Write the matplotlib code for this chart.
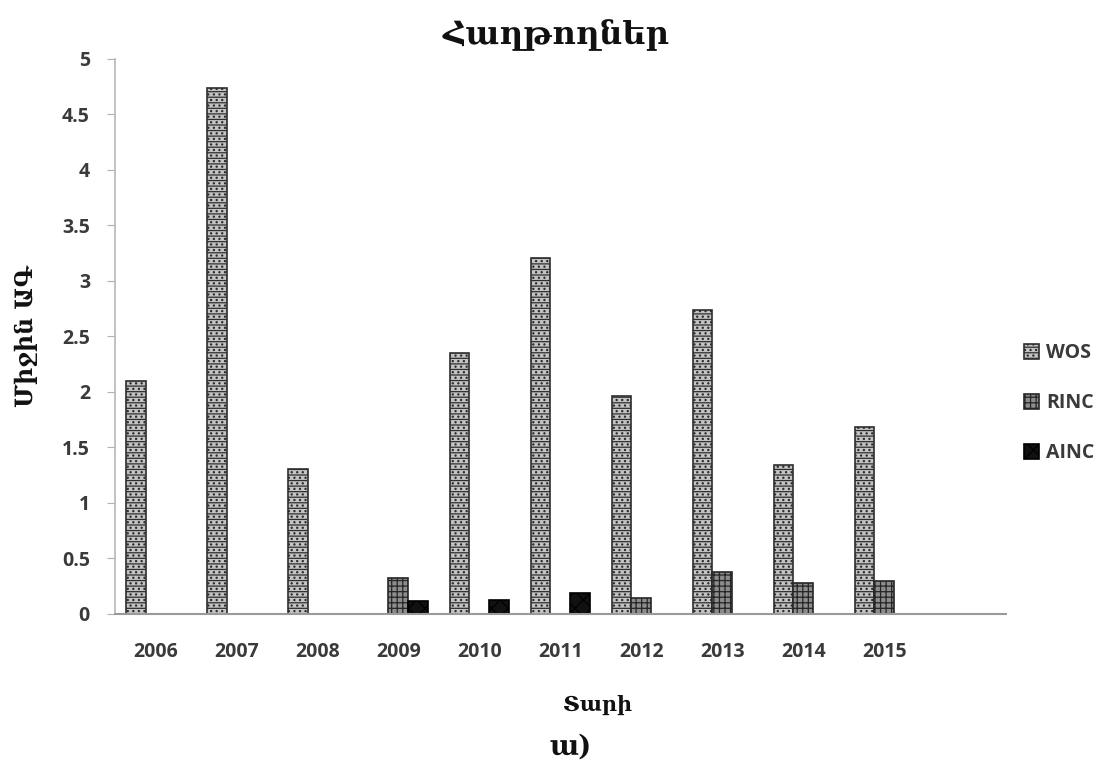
import numpy as np
import matplotlib.pyplot as plt

plt.rcParams['hatch.linewidth'] = 0.9

# data
years = ['2006', '2007', '2008', '2009', '2010', '2011', '2012', '2013', '2014', '2015', '']
wos = [2.10, 4.74, 1.31, 0, 2.35, 3.21, 1.96, 2.74, 1.34, 1.68, 0]
rinc = [0, 0, 0, 0.32, 0, 0, 0.14, 0.38, 0.28, 0.30, 0]
ainc = [0, 0, 0, 0.12, 0.13, 0.19, 0, 0, 0, 0, 0]
yticks = [0, 0.5, 1, 1.5, 2, 2.5, 3, 3.5, 4, 4.5, 5]
ytick_labels = ['0', '0.5', '1', '1.5', '2', '2.5', '3', '3.5', '4', '4.5', '5']

arm = ['DejaVu Serif', 'DejaVu Sans']
lat = 'Open Sans'

fig = plt.figure(figsize=(11.15, 7.72), dpi=100)
ax = fig.add_axes([0.1031, 0.2047, 0.799, 0.7189])

x = np.arange(len(years))
w = 0.245
ax.bar(x - w, wos, w, color='#c4c4c4', edgecolor='#2e2e2e', hatch='---...', linewidth=1.2, label='WOS')
ax.bar(x, rinc, w, color='#8c8c8c', edgecolor='#262626', hatch='+++', linewidth=1.2, label='RINC')
ax.bar(x + w, ainc, w, color='#111111', edgecolor='#000000', hatch='xx', linewidth=1.2, label='AINC')

ax.set_xlim(-0.5, len(years) - 0.5)
ax.set_ylim(0, 5)
ax.set_yticks(yticks)
ax.set_yticklabels(ytick_labels, fontfamily=lat, fontweight='bold', fontsize=14, color='#3a3a3a')
ax.set_xticks(x)
ax.set_xticklabels(years, fontfamily=lat, fontweight='bold', fontsize=14, color='#3a3a3a')
ax.tick_params(axis='x', length=0, pad=20)
ax.tick_params(axis='y', length=6, color='#b0b0b0', pad=12)

for s in ['top', 'right']:
    ax.spines[s].set_visible(False)
ax.spines['left'].set_color('#b8b8b8')
ax.spines['bottom'].set_color('#9a9a9a')
ax.spines['left'].set_linewidth(1.2)
ax.spines['bottom'].set_linewidth(1.5)

fig.text(0.499, 0.955, 'Հաղթողներ', family=arm, fontweight='bold', fontsize=23,
         ha='center', va='center', color='#111111')
fig.text(0.023, 0.565, 'Միջին ԱԳ', family=arm, fontweight='bold', fontsize=17,
         rotation=90, ha='center', va='center', color='#111111')
fig.text(0.536, 0.087, 'Տարի', family=arm, fontweight='bold', fontsize=15,
         ha='center', va='center', color='#111111')
fig.text(0.512, 0.032, 'ա)', family=arm, fontweight='bold', fontsize=20,
         ha='center', va='center', color='#111111')

leg = ax.legend(loc='center left', bbox_to_anchor=(1.02, 0.38), frameon=False,
                borderaxespad=0, borderpad=0,
                prop={'family': lat, 'weight': 'bold', 'size': 14},
                handlelength=0.8, handleheight=0.8, handletextpad=0.35, labelspacing=1.55)
for t in leg.get_texts():
    t.set_color('#3a3a3a')

fig.savefig('out.png', dpi=100, facecolor='white')
